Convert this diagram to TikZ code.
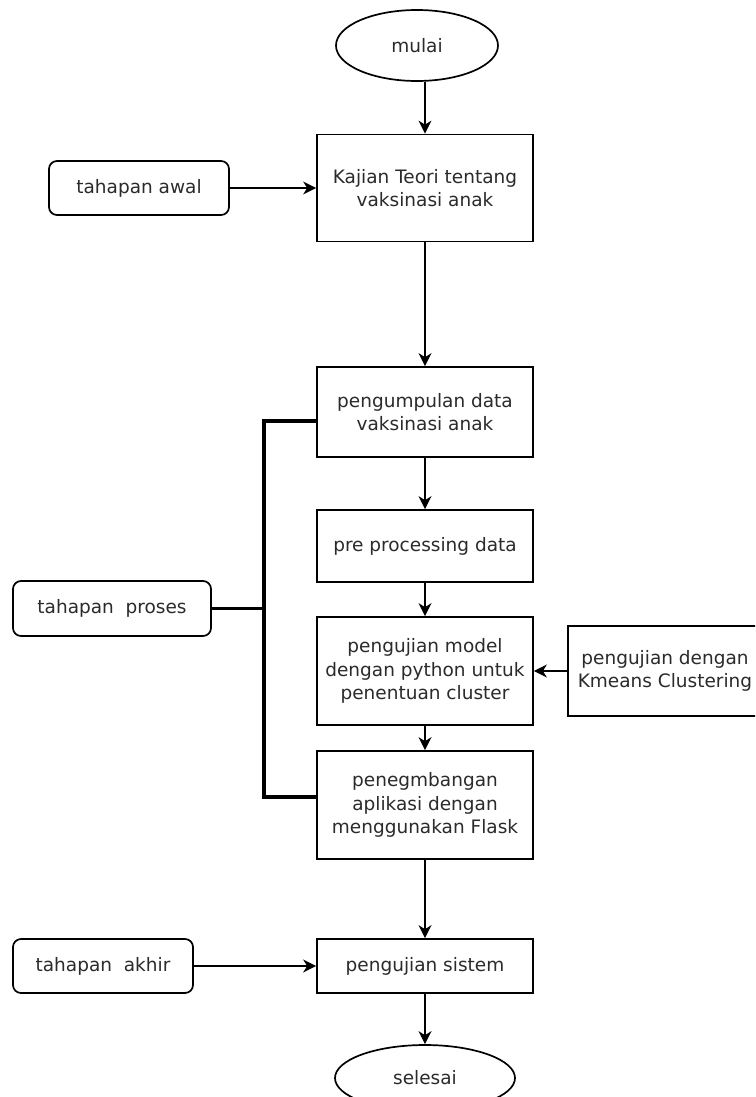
\documentclass[tikz,border=0pt]{standalone}
\usepackage{fontspec}
\setmainfont{DejaVu Sans}
\usetikzlibrary{shapes.geometric,arrows.meta}
\definecolor{txt}{HTML}{2B2B2B}
\tikzset{
  base/.style={draw=black, line width=1.7pt, text=txt, font=\fontsize{18.5}{23.3}\selectfont, align=center, inner sep=0pt},
  procbox/.style={base, rectangle, minimum width=216pt},
  sidebox/.style={base, rectangle, rounded corners=8pt},
  term/.style={base, ellipse},
  arr/.style={line width=1.6pt, -{Stealth[length=13pt,width=13pt,inset=4pt]}},
  bus/.style={line width=3.2pt}
}
\begin{document}
\begin{tikzpicture}[x=1pt,y=-1pt]
\useasboundingbox (0,0) rectangle (755,1097);
\clip (0,0) rectangle (755,1097);
\fill[white] (0,0) rectangle (755,1097);

\node[term, minimum width=162pt, minimum height=71pt] (mulai) at (417,45.5) {mulai};
\node[procbox, minimum height=107pt] (kajian) at (425,188) {Kajian Teori tentang\\vaksinasi anak};
\node[sidebox, minimum width=180pt, minimum height=54pt] (awal) at (139,188) {tahapan awal};
\node[procbox, minimum height=90pt] (kumpul) at (425,412) {pengumpulan data\\vaksinasi anak};
\node[procbox, minimum height=72pt] (pre) at (425,546) {pre processing data};
\node[procbox, minimum height=108pt] (model) at (425,671) {pengujian model\\dengan python untuk\\penentuan cluster};
\node[base, rectangle, minimum width=194pt, minimum height=90pt] (kmeans) at (665,671) {pengujian dengan\\Kmeans Clustering};
\node[procbox, minimum height=108pt] (flask) at (425,805) {penegmbangan\\aplikasi dengan\\menggunakan Flask};
\node[sidebox, minimum width=198pt, minimum height=55pt] (proses) at (112,608.5) {tahapan\ \ proses};
\node[procbox, minimum height=54pt] (uji) at (425,966) {pengujian sistem};
\node[sidebox, minimum width=180pt, minimum height=54pt] (akhir) at (103,966) {tahapan\ \ akhir};
\node[term, minimum width=180pt, minimum height=66pt] (selesai) at (425,1078) {selesai};

\coordinate (busx) at (264,0);
\coordinate (kin) at (317,421);
\coordinate (fin) at (317,797);

\draw[arr] (mulai.south -| kajian.north) -- (kajian.north);
\draw[arr] (awal.east) -- (kajian.west);
\draw[arr] (kajian.south) -- (kumpul.north);
\draw[arr] (kumpul.south) -- (pre.north);
\draw[arr] (pre.south) -- (model.north);
\draw[arr] (kmeans.west) -- (model.east);
\draw[arr] (model.south) -- (flask.north);
\draw[arr] (flask.south) -- (uji.north);
\draw[arr] (akhir.east) -- (uji.west);
\draw[arr] (uji.south) -- (selesai.north);

\draw[bus] (kin) -- (busx |- kin) -- (busx |- fin) -- (fin);
\draw[bus] (proses.east) -- (busx |- proses.east);
\end{tikzpicture}
\end{document}
